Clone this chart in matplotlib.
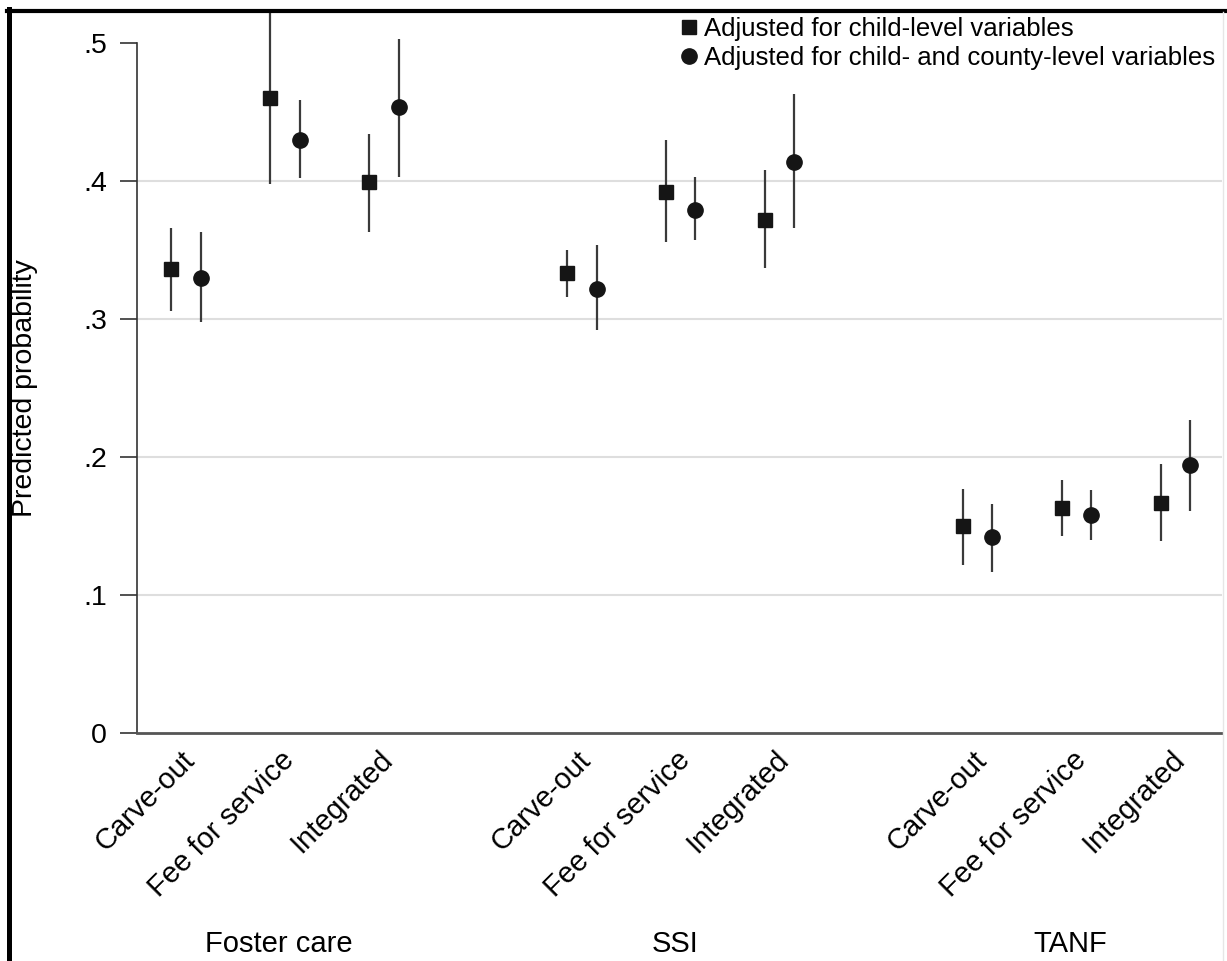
import matplotlib
matplotlib.use("Agg")
import matplotlib.pyplot as plt
from matplotlib.lines import Line2D
import numpy as np

plt.rcParams['font.family'] = ['Liberation Sans', 'DejaVu Sans']

groups = ["Foster care", "SSI", "TANF"]
categories = ["Carve-out", "Fee for service", "Integrated"]

# Adjusted for child-level variables (squares)
child_est = [0.336, 0.460, 0.399, 0.333, 0.392, 0.372, 0.150, 0.163, 0.167]
child_lo = [0.306, 0.398, 0.363, 0.316, 0.356, 0.337, 0.122, 0.143, 0.139]
child_hi = [0.366, 0.530, 0.434, 0.350, 0.430, 0.408, 0.177, 0.183, 0.195]

# Adjusted for child- and county-level variables (circles)
county_est = [0.330, 0.430, 0.454, 0.322, 0.379, 0.414, 0.142, 0.158, 0.194]
county_lo = [0.298, 0.402, 0.403, 0.292, 0.357, 0.366, 0.117, 0.140, 0.161]
county_hi = [0.363, 0.459, 0.503, 0.354, 0.403, 0.463, 0.166, 0.176, 0.227]

yticks = [0, 0.1, 0.2, 0.3, 0.4, 0.5]
ytick_labels = ["0", ".1", ".2", ".3", ".4", ".5"]

W, H = 1227, 961
fig = plt.figure(figsize=(W / 100, H / 100), dpi=100)
ax_left, ax_right = 137 / W, 1222 / W
ax_bottom, ax_top = (H - 733) / H, (H - 12) / H
ax = fig.add_axes([ax_left, ax_bottom, ax_right - ax_left, ax_top - ax_bottom])

pos = np.array([g * 4 + c for g in range(len(groups)) for c in range(len(categories))], dtype=float)
off = 0.3

ecol = "#3a3a3a"
for x, e, lo, hi in zip(pos, child_est, child_lo, child_hi):
    ax.plot([x, x], [lo, hi], color=ecol, lw=1.6, solid_capstyle='butt', zorder=2)
for x, e, lo, hi in zip(pos + off, county_est, county_lo, county_hi):
    ax.plot([x, x], [lo, hi], color=ecol, lw=1.6, solid_capstyle='butt', zorder=2)
ax.plot(pos, child_est, ls='none', marker='s', ms=10, color='#151515', zorder=3)
ax.plot(pos + off, county_est, ls='none', marker='o', ms=11, color='#151515', zorder=3)

ax.set_xlim(-0.343, 10.62)
ax.set_ylim(0, 0.5225)

for v in yticks[1:-1]:
    ax.axhline(v, color='#dedede', lw=1.5, zorder=0)

ax.set_yticks(yticks)
ax.set_yticklabels(ytick_labels, fontsize=20.5)
ax.tick_params(axis='y', length=12.5, width=1.2, color='#333333', pad=9)

ax.set_xticks(pos + 0.1)
ax.set_xticklabels(categories * len(groups), fontsize=21, rotation=45,
                   ha='right', va='top', rotation_mode='anchor')
ax.tick_params(axis='x', length=0, pad=9)

for s in ['top', 'right']:
    ax.spines[s].set_visible(False)
ax.spines['left'].set_bounds(0, 0.5)
ax.spines['left'].set_color('#333333')
ax.spines['left'].set_linewidth(1.2)
ax.spines['bottom'].set_color('#555555')
ax.spines['bottom'].set_linewidth(2.0)

# group labels
for g, name in enumerate(groups):
    xc = g * 4 + 1 + off / 2
    xf = ax.transData.transform((xc, 0))[0] / W - 6 / W
    fig.text(xf, 1 - 944 / H, name, fontsize=21, ha='center', va='center')

fig.text(25 / W, 1 - 388 / H, "Predicted probability", rotation=90, fontsize=20.5,
         ha='center', va='center')

handles = [Line2D([], [], ls='none', marker='s', ms=10, color='#151515'),
           Line2D([], [], ls='none', marker='o', ms=11, color='#151515')]
fig.legend(handles, ["Adjusted for child-level variables",
                     "Adjusted for child- and county-level variables"],
           loc='upper right', bbox_to_anchor=(1215 / W, 1 - 17 / H),
           frameon=False, fontsize=18.5, handlelength=0.55, handletextpad=0.3,
           labelspacing=0.2, borderpad=0, borderaxespad=0)

# frame lines (black left/top, light right)
fig.add_artist(Line2D([9 / W, 9 / W], [0, 1 - 9 / H], transform=fig.transFigure,
                      color='black', lw=3.6))
fig.add_artist(Line2D([7 / W, 1], [1 - 11 / H, 1 - 11 / H], transform=fig.transFigure,
                      color='black', lw=3))
fig.add_artist(Line2D([1223 / W, 1223 / W], [0, 1 - 12 / H], transform=fig.transFigure,
                      color='#e6e6e6', lw=1))

fig.savefig("out.png", dpi=100)
